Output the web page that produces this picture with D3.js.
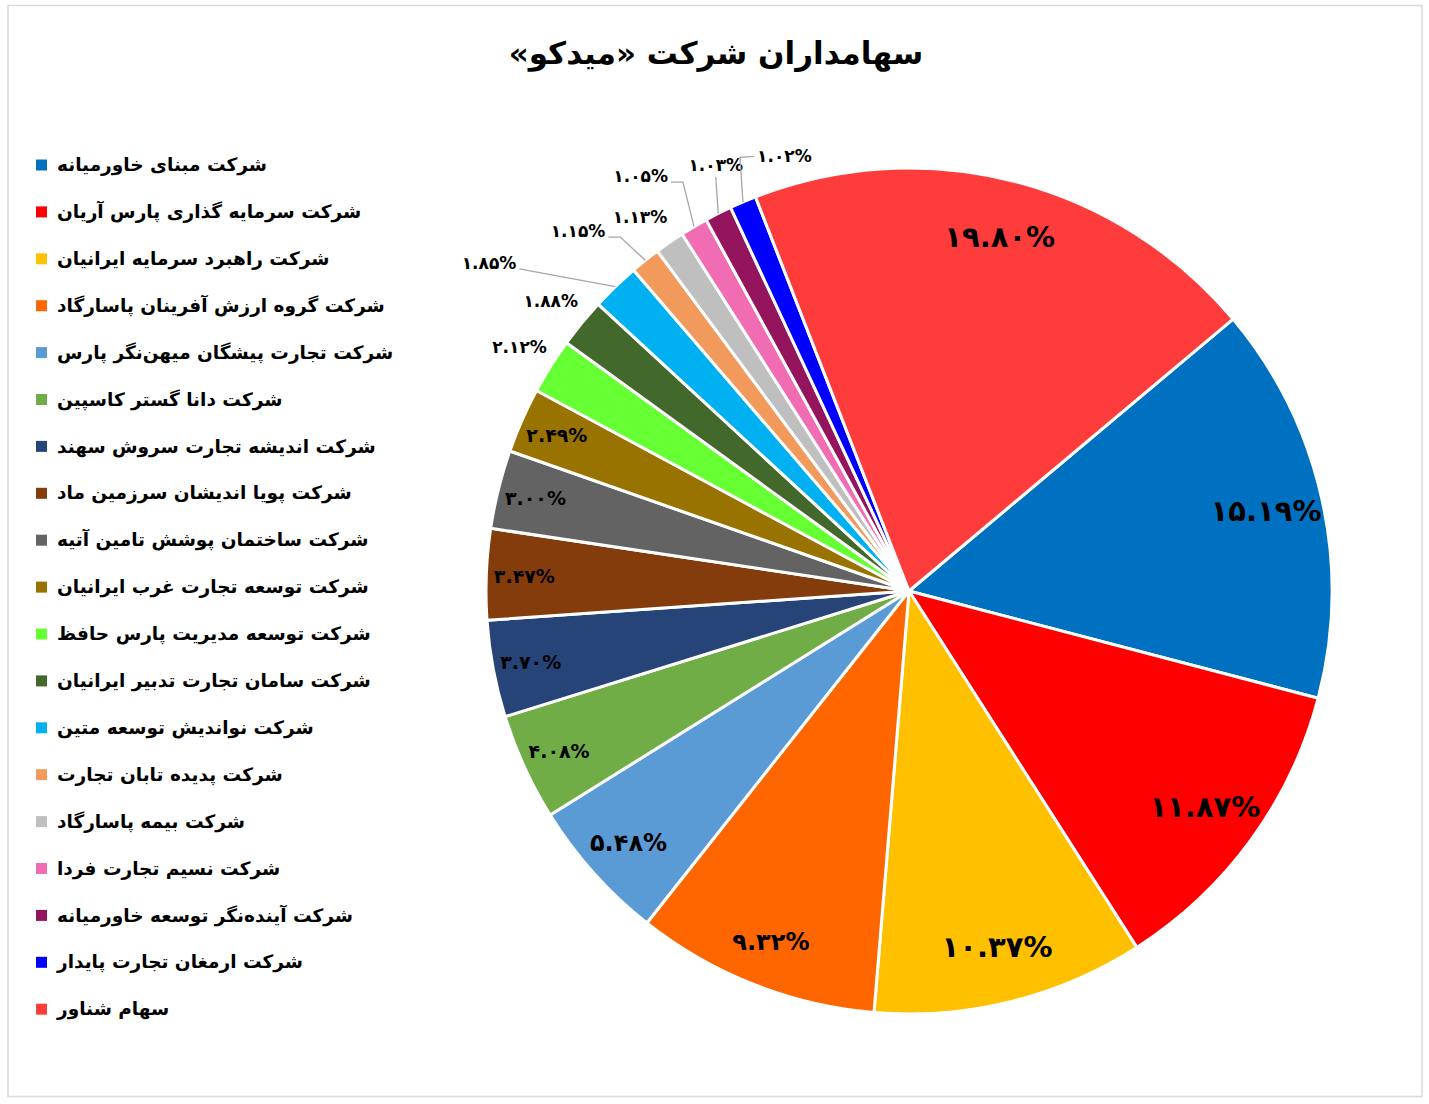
<!DOCTYPE html>
<html lang="fa">
<head>
<meta charset="utf-8">
<script src="https://cdn.jsdelivr.net/npm/d3@7"></script>
<style>
  html,body{margin:0;padding:0;background:#fff;}
  svg text{font-family:"DejaVu Sans","Noto Sans",sans-serif;font-weight:bold;}
</style>
</head>
<body>
<svg id="chart" width="1429" height="1104"></svg>
<script>
// ---- data ----
const titleText = "سهامداران شرکت «میدکو»";
const categories = [
  "شرکت مبنای خاورمیانه",
  "شرکت سرمایه گذاری پارس آریان",
  "شرکت راهبرد سرمایه ایرانیان",
  "شرکت گروه ارزش آفرینان پاسارگاد",
  "شرکت تجارت پیشگان میهن‌نگر پارس",
  "شرکت دانا گستر کاسپین",
  "شرکت اندیشه تجارت سروش سهند",
  "شرکت پویا اندیشان سرزمین ماد",
  "شرکت ساختمان پوشش تامین آتیه",
  "شرکت توسعه تجارت غرب ایرانیان",
  "شرکت توسعه مدیریت پارس حافظ",
  "شرکت سامان تجارت تدبیر ایرانیان",
  "شرکت نواندیش توسعه متین",
  "شرکت پدیده تابان تجارت",
  "شرکت بیمه پاسارگاد",
  "شرکت نسیم تجارت فردا",
  "شرکت آینده‌نگر توسعه خاورمیانه",
  "شرکت ارمغان تجارت پایدار",
  "سهام شناور"
];
const shares = [15.19, 11.87, 10.37, 9.32, 5.48, 4.08, 3.70, 3.47, 3.00, 2.49,
                2.12, 1.88, 1.85, 1.15, 1.13, 1.05, 1.03, 1.02, 19.80];
const colors = ["#0070C0","#FF0000","#FFC000","#FF6600","#5B9BD5","#70AD47","#264478",
                "#843C0C","#636363","#997300","#66FF33","#43682B","#00B0F0","#F19A5B",
                "#BFBFBF","#F06DB4","#95145E","#0000FF","#FF3C3C"];

// ---- layout (styling, not data) ----
const W = 1429, H = 1104;
const cx = 909, cy = 591, R = 423;
const startDeg = 50;
// outside label placement for small slices: [angle (deg), radius factor, leader type]
const outsidePlacement = {
  10: {a: 302.1, f: 1.087, leader: null},
  11: {a: 309.0, f: 1.090, leader: null},
  12: {a: 308.0, f: 1.260, leader: "left"},
  13: {a: 317.4, f: 1.156, leader: "left"},
  14: {a: 324.3, f: 1.090, leader: null},
  15: {a: 327.1, f: 1.168, leader: "left"},
  16: {a: 335.6, f: 1.106, leader: "down"},
  17: {a: 344.0, f: 1.069, leader: "right"}
};

const toFa = s => s.replace(/[0-9]/g, d => "۰۱۲۳۴۵۶۷۸۹"[+d]);
const fmt = v => toFa(v.toFixed(2)) + "%";

const svg = d3.select("#chart");

// frame
svg.append("rect").attr("x", 8).attr("y", 5.5).attr("width", 1414).attr("height", 1091)
  .attr("fill", "#fff").attr("stroke", "#D9D9D9").attr("stroke-width", 1.5);

// title
svg.append("text").attr("x", 716).attr("y", 64).attr("text-anchor", "middle")
  .attr("direction", "rtl").attr("unicode-bidi", "embed")
  .attr("font-size", 31).attr("fill", "#000").text(titleText);

// pie
const data = shares.map((v, i) => ({name: categories[i], value: v, i}));
const pie = d3.pie().value(d => d.value).sort(null)
  .startAngle(startDeg * Math.PI / 180).endAngle(startDeg * Math.PI / 180 + 2 * Math.PI);
const arcs = pie(data);
const arc = d3.arc().innerRadius(0).outerRadius(R);

const g = svg.append("g").attr("transform", `translate(${cx},${cy})`);
g.selectAll("path.slice").data(arcs).join("path")
  .attr("class", "slice")
  .attr("d", arc)
  .attr("fill", d => colors[d.data.i])
  .attr("stroke", "#fff").attr("stroke-width", 3).attr("stroke-linejoin", "round");

const polar = (deg, r) => {
  const a = deg * Math.PI / 180;
  return [r * Math.sin(a), -r * Math.cos(a)];
};

// labels
arcs.forEach(d => {
  const i = d.data.i;
  const midDeg = ((d.startAngle + d.endAngle) / 2) * 180 / Math.PI;
  const place = outsidePlacement[i];
  if (!place) {
    const v = d.data.value;
    const f = v >= 10 ? 0.865 : (v >= 5 ? 0.89 : 0.91);
    const fs = v >= 10 ? 29 : (v >= 5 ? 24 : 19);
    const [x, y] = polar(midDeg, R * f);
    g.append("text").attr("x", x).attr("y", y).attr("dy", "0.36em")
      .attr("text-anchor", "middle").attr("font-size", fs).attr("fill", "#000")
      .text(fmt(v));
  } else {
    const [x, y] = polar(place.a, R * place.f);
    const t = g.append("text").attr("x", x).attr("y", y).attr("dy", "0.36em")
      .attr("text-anchor", "middle").attr("font-size", 17).attr("fill", "#000")
      .text(fmt(d.data.value));
    if (place.leader) {
      const bb = t.node().getBBox();
      const [ex, ey] = polar(midDeg, R);
      let pts;
      if (place.leader === "left") {
        const lx = bb.x + bb.width + 3, ly = y + 6;
        const dx = ex - lx;
        pts = dx > 40 ? [[lx, ly], [ex, ey]] : [[lx, ly], [lx + 12, ly], [ex, ey]];
      } else if (place.leader === "down") {
        pts = [[x, bb.y + bb.height + 2], [ex, ey]];
      } else {
        const lx = bb.x - 3;
        pts = [[lx, y], [lx - 14, y + 1], [ex, ey]];
      }
      g.append("path").attr("d", d3.line()(pts))
        .attr("fill", "none").attr("stroke", "#A6A6A6").attr("stroke-width", 1.3);
    }
  }
});

// legend
const legend = svg.append("g");
const ly0 = 165, lstep = 46.9;
data.forEach((d, k) => {
  const y = ly0 + k * lstep;
  legend.append("rect").attr("x", 36).attr("y", y - 5.5).attr("width", 11).attr("height", 11)
    .attr("fill", colors[d.i]);
  legend.append("text").attr("x", 57).attr("y", y).attr("dy", "0.33em")
    .attr("direction", "rtl").attr("unicode-bidi", "embed")
    .attr("text-anchor", "end").attr("font-size", 18.5).attr("fill", "#000")
    .text(d.name);
});
</script>
</body>
</html>
